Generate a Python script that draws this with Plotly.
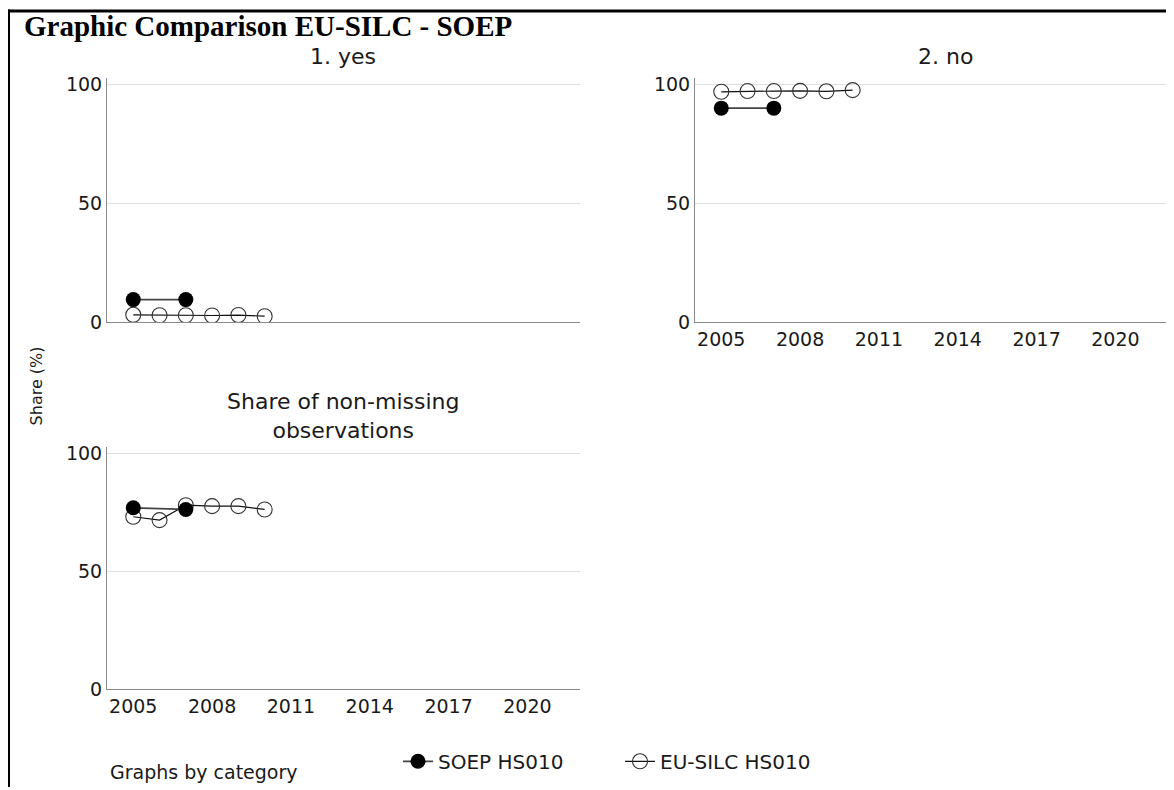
import plotly.graph_objects as go

# empirical page mapping: page_x = fig_x + 8 ; page_y = 0.98 * fig_y + 12.5
OX, OY, SY = 8.0, 12.5, 0.98
W, H = 1166, 790

# ---- data ----
years_eu = [2005, 2006, 2007, 2008, 2009, 2010]
years_soep = [2005, 2007]

yes_soep = [9.4, 9.4]
yes_eu = [3.0, 2.8, 2.8, 2.7, 2.9, 2.4]

no_soep = [90.0, 90.0]
no_eu = [96.9, 97.2, 97.2, 97.3, 97.1, 97.6]

nm_soep = [76.9, 76.2]
nm_eu = [73.1, 71.7, 78.0, 77.6, 77.6, 76.2]

x_ticks = [2005, 2008, 2011, 2014, 2017, 2020]
y_ticks = [0, 50, 100]

panel_titles = ["1. yes", "2. no", "Share of non-missing<br>observations"]
soep_name = "SOEP HS010"
eu_name = "EU-SILC HS010"

FONT = "DejaVu Sans"
TXT = "#1a1a1a"

def fx(px):
    return (px - OX) / W

def fy(py):
    return 1 - ((py - OY) / SY) / H

fig = go.Figure()

panels = [
    ("x", "y", yes_soep, yes_eu),
    ("x2", "y2", no_soep, no_eu),
    ("x3", "y3", nm_soep, nm_eu),
]

for i, (xa, ya, s_vals, e_vals) in enumerate(panels):
    fig.add_trace(go.Scatter(
        x=years_eu, y=e_vals, xaxis=xa, yaxis=ya, mode="lines+markers",
        name=eu_name, showlegend=(i == 0), legendrank=2,
        line=dict(color="#111111", width=1.2),
        marker=dict(symbol="circle-open", size=15, color="#333333",
                    line=dict(width=1.1, color="#333333")),
    ))
    fig.add_trace(go.Scatter(
        x=years_soep, y=s_vals, xaxis=xa, yaxis=ya, mode="lines+markers",
        name=soep_name, showlegend=(i == 0), legendrank=1,
        line=dict(color="#444444", width=1.8),
        marker=dict(symbol="circle", size=15, color="#000000"),
    ))

axis_common = dict(showline=True, linecolor="#8a8a8a", linewidth=1,
                   zeroline=False, ticks="", mirror=False)

xdom_left = [fx(107), fx(580)]
xdom_right = [fx(695), min(1.0, fx(1168))]
ydom_top = [fy(321.5), fy(78)]
ydom_bot = [fy(689), fy(447)]

xcfg = dict(range=[2004, 2022], tickvals=x_ticks, showgrid=False,
            tickfont=dict(family=FONT, size=19, color=TXT), **axis_common)
ycfg = dict(range=[0, 102.5], tickvals=y_ticks, showgrid=True,
            gridcolor="#dedede", gridwidth=1,
            tickfont=dict(family=FONT, size=19, color=TXT), **axis_common)

fig.update_layout(
    width=W, height=H,
    margin=dict(l=0, r=0, t=0, b=0),
    paper_bgcolor="white", plot_bgcolor="white",
    showlegend=True,
    xaxis=dict(domain=xdom_left, anchor="y", showticklabels=False, **xcfg),
    yaxis=dict(domain=ydom_top, anchor="x", **ycfg),
    xaxis2=dict(domain=xdom_right, anchor="y2", **xcfg),
    yaxis2=dict(domain=ydom_top, anchor="x2", **ycfg),
    xaxis3=dict(domain=xdom_left, anchor="y3", **xcfg),
    yaxis3=dict(domain=ydom_bot, anchor="x3", **ycfg),
    legend=dict(orientation="h", x=fx(398), xanchor="left",
                y=fy(761), yanchor="middle",
                font=dict(family=FONT, size=20, color=TXT),
                bgcolor="rgba(0,0,0,0)", entrywidth=177,
                entrywidthmode="pixels"),
)

annotations = [
    dict(text="<b>Graphic Comparison EU-SILC - SOEP</b>", x=fx(22), y=fy(26),
         xanchor="left", yanchor="middle",
         font=dict(family="Liberation Serif", size=29, color="#000000")),
    dict(text=panel_titles[0], x=fx(343), y=fy(56), xanchor="center", yanchor="middle",
         font=dict(family=FONT, size=22, color=TXT)),
    dict(text=panel_titles[1], x=fx(945), y=fy(56), xanchor="center", yanchor="middle",
         font=dict(family=FONT, size=22, color=TXT)),
    dict(text=panel_titles[2], x=fx(343), y=fy(416), xanchor="center", yanchor="middle",
         font=dict(family=FONT, size=22, color=TXT)),
    dict(text="Share (%)", x=fx(36), y=fy(386), xanchor="center", yanchor="middle",
         textangle=-90, font=dict(family=FONT, size=16, color=TXT)),
    dict(text="Graphs by category", x=fx(108), y=fy(772), xanchor="left", yanchor="middle",
         font=dict(family=FONT, size=19, color=TXT)),
]
for a in annotations:
    a.update(xref="paper", yref="paper", showarrow=False)
fig.update_layout(annotations=annotations)

# outer frame (top and left edges visible)
fig.add_shape(type="line", xref="paper", yref="paper",
              x0=0, x1=1, y0=fy(10.5), y1=fy(10.5),
              line=dict(color="black", width=3))
fig.add_shape(type="line", xref="paper", yref="paper",
              x0=0.5 / W, x1=0.5 / W, y0=0, y1=fy(9),
              line=dict(color="black", width=3))

fig.write_html("out.html")
